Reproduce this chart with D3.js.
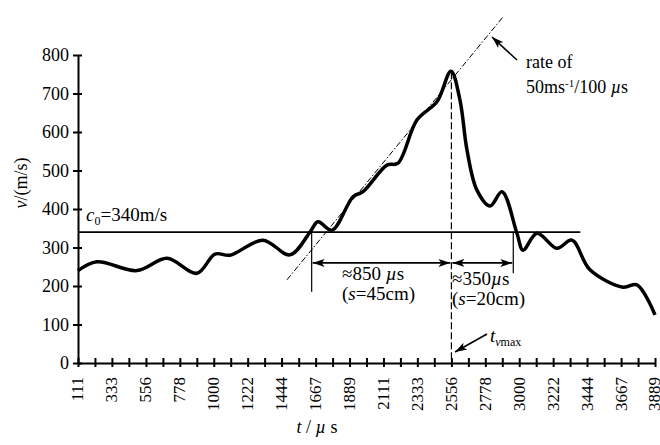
<!DOCTYPE html>
<html>
<head>
<meta charset="utf-8">
<script src="https://cdn.jsdelivr.net/npm/d3@7"></script>
<style>
  body { margin: 0; background: #fff; }
</style>
</head>
<body>
<svg width="660" height="445"></svg>
<script>
// category ticks (µs) and which ones carry a label
const categories = [111, 222, 333, 444, 556, 667, 778, 889, 1000, 1111, 1222, 1333, 1444, 1556, 1667, 1778,
    1889, 2000, 2111, 2222, 2333, 2444, 2556, 2667, 2778, 2889, 3000, 3111, 3222, 3333, 3444, 3556, 3667, 3778, 3889];
const tickLabels = ["111", "333", "556", "778", "1000", "1222", "1444", "1667", "1889",
    "2111", "2333", "2556", "2778", "3000", "3222", "3444", "3667", "3889"];
const yTicks = [0, 100, 200, 300, 400, 500, 600, 700, 800];

// velocity trace
const times = [111, 235, 497, 694, 890, 1008, 1106, 1322, 1499, 1630, 1682, 1774, 1912, 1977, 2134, 2206,
    2330, 2462, 2553, 2612, 2658, 2723, 2809, 2887, 2985, 3025, 3116, 3247, 3345, 3463, 3679, 3771, 3889];
const speeds = [240, 263, 240, 272, 233, 283, 280, 319, 281, 340, 367, 345, 432, 445, 514, 519,
    631, 679, 758, 683, 553, 449, 408, 445, 337, 293, 337, 298, 319, 242, 197, 203, 125];

// annotations
const c0 = 340, c0End = 3400;
const tPeak = 2556;
const tCross1 = 1641, tCross2 = 2961;
const tangent = [[1479, 216], [2894, 899]];

const serif = "'Liberation Serif', 'Times New Roman', Times, 'DejaVu Serif', serif";

let svg = d3.select("svg").attr("font-family", serif);

let x = d3.scaleLinear().domain([111.1, 3888.9]).range([78, 655]);
let y = d3.scaleLinear().domain([0, 800]).range([363, 55]);

// arrow marker
svg.append("defs").append("marker")
    .attr("id", "arrow")
    .attr("viewBox", "0 -5 12 10")
    .attr("refX", 12)
    .attr("refY", 0)
    .attr("markerWidth", 12)
    .attr("markerHeight", 10)
    .attr("markerUnits", "userSpaceOnUse")
    .attr("orient", "auto-start-reverse")
    .append("path")
    .attr("d", "M0,-4L12,0L0,4L3,0Z")
    .attr("fill", "#000");

//////////// AXES ////////////

let yAxis = svg.append("g")
    .attr("transform", "translate(78,0)")
    .call(d3.axisLeft(y).tickValues(yTicks).tickSize(5).tickSizeOuter(0).tickPadding(4));
yAxis.selectAll(".tick").append("line").attr("x2", 4).attr("stroke", "#000");

let xAxis = svg.append("g")
    .attr("transform", "translate(0,363)")
    .call(d3.axisBottom(x).tickValues(categories).tickSize(4).tickSizeOuter(0)
        .tickFormat(function (d, i) { return i % 2 === 0 ? tickLabels[i / 2] : ""; }));
xAxis.selectAll(".tick").append("line").attr("y2", -5).attr("stroke", "#000");
xAxis.selectAll(".tick text")
    .attr("transform", "rotate(-90)")
    .attr("text-anchor", "end")
    .attr("x", -14)
    .attr("y", -1)
    .attr("dy", "0.35em");

svg.selectAll(".domain").attr("stroke", "#000").attr("stroke-width", 2);
svg.selectAll(".tick line").attr("stroke-width", 2);
yAxis.attr("font-family", serif).selectAll("text").style("font-size", "18px");
xAxis.attr("font-family", serif).selectAll("text").style("font-size", "17px");

// axis titles
let yTitle = svg.append("text")
    .attr("transform", "translate(27,183) rotate(-90)")
    .attr("text-anchor", "middle")
    .style("font-size", "18px");
yTitle.append("tspan").style("font-style", "italic").text("v");
yTitle.append("tspan").text("/(m/s)");

let xTitle = svg.append("text")
    .attr("x", 317).attr("y", 433)
    .attr("text-anchor", "middle")
    .style("font-size", "18px");
xTitle.append("tspan").style("font-style", "italic").text("t");
xTitle.append("tspan").text(" / ");
xTitle.append("tspan").style("font-style", "italic").text("µ");
xTitle.append("tspan").text(" s");

//////////// ANNOTATION LINES ////////////

// speed of sound
svg.append("line")
    .attr("x1", x(111.1)).attr("x2", x(c0End))
    .attr("y1", y(c0)).attr("y2", y(c0))
    .attr("stroke", "#000").attr("stroke-width", 1.6);

let c0Label = svg.append("text").attr("x", 86).attr("y", 221).style("font-size", "19px");
c0Label.append("tspan").style("font-style", "italic").text("c");
c0Label.append("tspan").attr("dy", 4).style("font-size", "12px").text("0");
c0Label.append("tspan").attr("dy", -4).text("=340m/s");

// tangent (dash-dot)
svg.append("line")
    .attr("x1", x(tangent[0][0])).attr("y1", y(tangent[0][1]))
    .attr("x2", x(tangent[1][0])).attr("y2", y(tangent[1][1]))
    .attr("stroke", "#000").attr("stroke-width", 1)
    .attr("stroke-dasharray", "6,2,1.5,2");

// peak marker
svg.append("line")
    .attr("x1", x(tPeak)).attr("x2", x(tPeak))
    .attr("y1", y(755)).attr("y2", y(0))
    .attr("stroke", "#000").attr("stroke-width", 1.2)
    .attr("stroke-dasharray", "7,3");

// crossing markers
svg.append("line")
    .attr("x1", x(tCross1)).attr("x2", x(tCross1))
    .attr("y1", y(c0)).attr("y2", y(185))
    .attr("stroke", "#000").attr("stroke-width", 1.2);
svg.append("line")
    .attr("x1", x(tCross2)).attr("x2", x(tCross2))
    .attr("y1", y(c0)).attr("y2", y(233))
    .attr("stroke", "#000").attr("stroke-width", 1.2);

// double arrows
[[tCross1, tPeak], [tPeak, tCross2]].forEach(function (d) {
    svg.append("line")
        .attr("x1", x(d[0]) + 1).attr("x2", x(d[1]) - 1)
        .attr("y1", y(260)).attr("y2", y(260))
        .attr("stroke", "#000").attr("stroke-width", 1.6)
        .attr("marker-start", "url(#arrow)")
        .attr("marker-end", "url(#arrow)");
});

// interval texts
function intervalText(px, py, parts) {
    let t = svg.append("text").attr("x", px).attr("y", py).style("font-size", "19px");
    parts.forEach(function (p) {
        t.append("tspan").style("font-style", p[1] ? "italic" : "normal").text(p[0]);
    });
}
intervalText(342, 280, [["≈850 ", 0], ["µ", 1], ["s", 0]]);
intervalText(342, 300, [["(", 0], ["s", 1], ["=45cm)", 0]]);
intervalText(452, 285, [["≈350", 0], ["µ", 1], ["s", 0]]);
intervalText(452, 305, [["(", 0], ["s", 1], ["=20cm)", 0]]);

// t_vmax label with arrow
svg.append("line")
    .attr("x1", 487).attr("y1", 334).attr("x2", 455).attr("y2", 352)
    .attr("stroke", "#000").attr("stroke-width", 1.6)
    .attr("marker-end", "url(#arrow)");
let tv = svg.append("text").attr("x", 490).attr("y", 342).style("font-size", "19px");
tv.append("tspan").style("font-style", "italic").text("t");
tv.append("tspan").attr("dy", 4).style("font-size", "12px").style("font-style", "italic").text("v");
tv.append("tspan").style("font-size", "12px").text("max");

// rate label with arrow
svg.append("line")
    .attr("x1", 517).attr("y1", 60).attr("x2", 492).attr("y2", 37)
    .attr("stroke", "#000").attr("stroke-width", 1.6)
    .attr("marker-end", "url(#arrow)");
svg.append("text").attr("x", 526).attr("y", 68).style("font-size", "18px").text("rate of");
let rate = svg.append("text").attr("x", 526).attr("y", 93).style("font-size", "18px");
rate.append("tspan").text("50ms");
rate.append("tspan").attr("dy", -6).style("font-size", "11px").text("-1");
rate.append("tspan").attr("dy", 6).text("/100 ");
rate.append("tspan").style("font-style", "italic").text("µ");
rate.append("tspan").text("s");

//////////// CURVE ////////////

let points = times.map(function (t, i) { return [t, speeds[i]]; });
let line = d3.line()
    .x(function (d) { return x(d[0]); })
    .y(function (d) { return y(d[1]); })
    .curve(d3.curveCatmullRom.alpha(0.5));

svg.append("path")
    .datum(points)
    .attr("d", line)
    .attr("fill", "none")
    .attr("stroke", "#000")
    .attr("stroke-width", 3.5)
    .attr("stroke-linejoin", "round");

svg.selectAll("text").attr("fill", "#000");
</script>
</body>
</html>
